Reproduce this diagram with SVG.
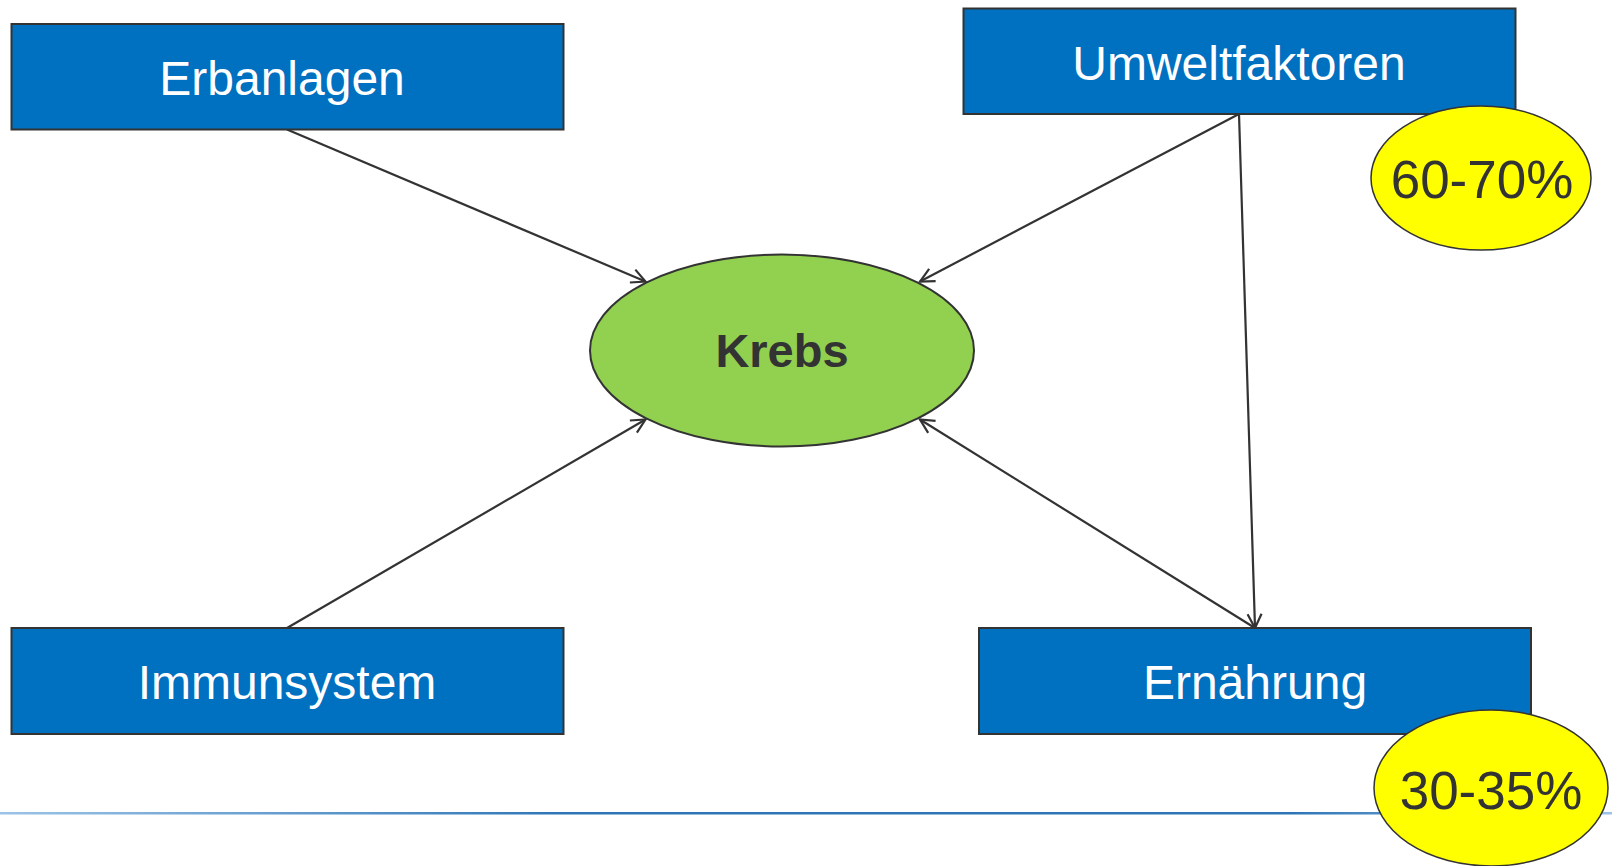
<svg xmlns="http://www.w3.org/2000/svg" width="1612" height="866" viewBox="0 0 1612 866">
<style>
.box{fill:#0070C0;stroke:#333333;stroke-width:2}
.lbl{font-family:"Liberation Sans",Arial,sans-serif;font-size:48px;fill:#FFFFFF;text-anchor:middle}
.pct{font-family:"Liberation Sans",Arial,sans-serif;font-size:53px;fill:#333333;text-anchor:middle}
.badge{fill:#FFFF00;stroke:#333333;stroke-width:1.5}
.conn{stroke:#333333;stroke-width:2.2;fill:none}
</style>
<defs>
<marker id="arr" markerUnits="userSpaceOnUse" markerWidth="20" markerHeight="20" viewBox="-16 -10 18 20" refX="0" refY="0" orient="auto">
<path d="M-14,-7 L0,0 L-14,7" fill="none" stroke="#333333" stroke-width="2.2"/>
</marker>
<linearGradient id="rule" x1="0" y1="0" x2="1" y2="0">
<stop offset="0" stop-color="#9DC3E6"/>
<stop offset="0.35" stop-color="#2E75B6"/>
<stop offset="0.8" stop-color="#2E75B6"/>
<stop offset="1" stop-color="#9DC3E6"/>
</linearGradient>
</defs>
<rect id="rule-line" x="0" y="812" width="1612" height="2.5" fill="url(#rule)"/>
<g id="connectors">
<line class="conn" x1="287" y1="129.5" x2="645.5" y2="281.5" marker-end="url(#arr)"/>
<line class="conn" x1="1239" y1="114" x2="920" y2="281.5" marker-end="url(#arr)"/>
<line class="conn" x1="1239" y1="114" x2="1255" y2="628" marker-end="url(#arr)"/>
<line class="conn" x1="287" y1="628" x2="645.5" y2="419.5" marker-end="url(#arr)"/>
<line class="conn" x1="1255" y1="628" x2="920" y2="419.5" marker-end="url(#arr)"/>
</g>
<g id="krebs">
<ellipse cx="782" cy="350.5" rx="192" ry="96" fill="#92D050" stroke="#333333" stroke-width="2"/>
<text x="782" y="367" font-family="'Liberation Sans',Arial,sans-serif" font-size="47" font-weight="bold" fill="#333333" text-anchor="middle">Krebs</text>
</g>
<g id="erbanlagen">
<rect class="box" x="11.5" y="24" width="552" height="105.5"/>
<text class="lbl" x="282" y="95">Erbanlagen</text>
</g>
<g id="umweltfaktoren">
<rect class="box" x="963.5" y="8.5" width="552" height="105.5"/>
<text class="lbl" x="1239" y="80">Umweltfaktoren</text>
</g>
<g id="immunsystem">
<rect class="box" x="11.5" y="628" width="552" height="106"/>
<text class="lbl" x="287" y="699">Immunsystem</text>
</g>
<g id="ernaehrung">
<rect class="box" x="979" y="628" width="552" height="106"/>
<text class="lbl" x="1255" y="699">Ernährung</text>
</g>
<g id="badge-umwelt">
<ellipse class="badge" cx="1481" cy="178" rx="110" ry="72"/>
<text class="pct" x="1482" y="198">60-70%</text>
</g>
<g id="badge-ernaehrung">
<ellipse class="badge" cx="1491" cy="788" rx="117" ry="78"/>
<text class="pct" x="1491" y="809">30-35%</text>
</g>
</svg>
